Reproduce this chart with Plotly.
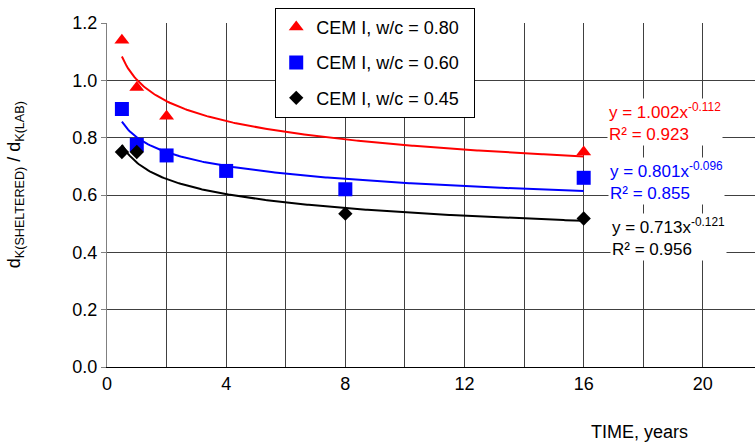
import numpy as np
import plotly.graph_objects as go

# ---- data ----
series_names = ["CEM I, w/c = 0.80", "CEM I, w/c = 0.60", "CEM I, w/c = 0.45"]
x_080 = [0.5, 1, 2, 16]
y_080 = [1.14, 0.975, 0.875, 0.75]
x_060 = [0.5, 1, 2, 4, 8, 16]
y_060 = [0.90, 0.775, 0.738, 0.684, 0.62, 0.66]
x_045 = [0.5, 1, 8, 16]
y_045 = [0.75, 0.75, 0.535, 0.518]
# power trendline y = a * x^b (from chart equations)
fit_a = [1.002, 0.801, 0.713]
fit_b = [-0.112, -0.096, -0.121]
fit_r2 = [0.923, 0.855, 0.956]
fit_xmin, fit_xmax = 0.5, 16

colors = ["#ff0000", "#0000ff", "#000000"]
symbols = ["triangle-up", "square", "diamond"]
sizes = [13, 14, 11]
xs = [x_080, x_060, x_045]
ys = [y_080, y_060, y_045]

FONT = "Arial, Liberation Sans, sans-serif"

fig = go.Figure()
xf = np.linspace(fit_xmin, fit_xmax, 300)
for i in range(3):
    fig.add_trace(go.Scatter(
        x=xf, y=fit_a[i] * xf ** fit_b[i], mode="lines",
        line=dict(color=colors[i], width=2), showlegend=False, hoverinfo="skip"))
for i in range(3):
    fig.add_trace(go.Scatter(
        x=xs[i], y=ys[i], mode="markers",
        name=series_names[i] + "\u00a0" * 2,
        marker=dict(symbol=symbols[i], size=sizes[i], color=colors[i],
                    line=dict(width=0)),
        legendgroup=str(i)))

# equation annotations
eq_pos = [(16.78, 0.937), (16.82, 0.733), (16.88, 0.537)]
for i in range(3):
    fig.add_annotation(
        x=eq_pos[i][0], y=eq_pos[i][1], xref="x", yref="y",
        xanchor="left", yanchor="top", align="left", showarrow=False,
        text=f"y = {fit_a[i]:.3f}x<sup>{fit_b[i]:.3f}</sup><br>R² = {fit_r2[i]:.3f}",
        font=dict(family=FONT, size=17, color=colors[i]),
        bgcolor="white", borderpad=1)

fig.add_annotation(
    x=-0.162, y=0.53, xref="paper", yref="paper", textangle=-90,
    text="d<sub>K(SHELTERED)</sub> / d<sub>K(LAB)</sub>", showarrow=False,
    font=dict(family=FONT, size=18, color="black"))
fig.add_annotation(
    x=0.822, y=-0.19, xref="paper", yref="paper", xanchor="center", yanchor="middle",
    text="TIME, years", showarrow=False,
    font=dict(family=FONT, size=18, color="black"))

fig.update_layout(
    width=755, height=448,
    margin=dict(l=107, r=0, t=23, b=81),
    plot_bgcolor="white", paper_bgcolor="white",
    font=dict(family=FONT, size=18, color="black"),
    legend=dict(x=0.2596, y=1.044, xanchor="left", yanchor="top",
                bgcolor="white", bordercolor="black", borderwidth=1,
                font=dict(family=FONT, size=18), tracegroupgap=9,
                itemwidth=30),
)
fig.update_xaxes(range=[0, 21.75], dtick=4, tick0=0, showgrid=True,
                 gridcolor="#404040", gridwidth=1,
                 minor=dict(dtick=2, showgrid=True, gridcolor="#404040", gridwidth=1),
                 showline=True, linecolor="black", linewidth=1,
                 zeroline=False, ticks="", tickfont=dict(size=18))
fig.update_yaxes(range=[0, 1.2], dtick=0.2, tickformat=".1f", showgrid=True,
                 gridcolor="#404040", gridwidth=1,
                 showline=True, linecolor="#808080", linewidth=1,
                 zeroline=False, ticks="outside", ticklen=5, tickcolor="#808080",
                 tickfont=dict(size=18))

fig.write_html("out.html")
